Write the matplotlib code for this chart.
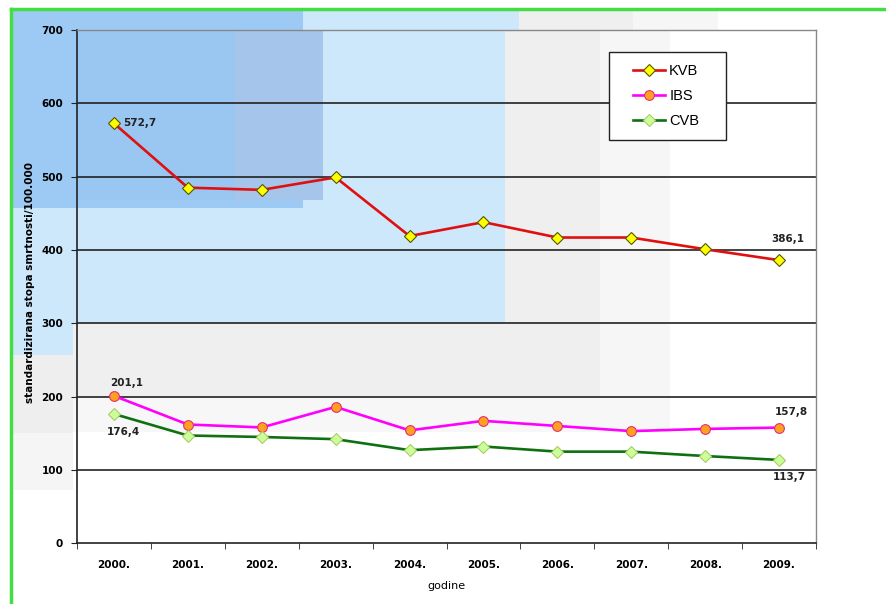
import matplotlib
matplotlib.use("Agg")
import matplotlib.pyplot as plt
from matplotlib.patches import Rectangle
from matplotlib.lines import Line2D

plt.rcParams['font.family'] = ['DejaVu Sans']

years = ["2000.", "2001.", "2002.", "2003.", "2004.", "2005.", "2006.", "2007.", "2008.", "2009."]
kvb = [572.7, 485, 482, 499, 419, 438, 417, 417, 401, 386.1]
ibs = [201.1, 162, 158, 186, 154, 167, 160, 153, 156, 157.8]
cvb = [176.4, 147, 145, 142, 127, 132, 125, 125, 119, 113.7]
yticks = [0, 100, 200, 300, 400, 500, 600, 700]

W, H = 886, 604
fig = plt.figure(figsize=(W / 100, H / 100), dpi=100)
fig.patch.set_facecolor("white")


def band(x0, y0, x1, y1, color, z=-10):
    # rectangle given in pixel coordinates measured from the top-left corner
    r = Rectangle((x0 / W, 1 - y1 / H), (x1 - x0) / W, (y1 - y0) / H,
                  transform=fig.transFigure, facecolor=color,
                  edgecolor="none", zorder=z)
    fig.patches.append(r)
    return r


# backdrop panels
band(10, 9, 505, 324, "#cde8fa")
band(505, 30, 600, 397, "#efefef")
band(600, 30, 670, 397, "#f6f6f6")
band(303, 9, 519, 30, "#cde8fa")
band(519, 9, 633, 30, "#efefef")
band(633, 9, 718, 30, "#f6f6f6")
band(10, 324, 505, 397, "#efefef")
band(10, 397, 670, 432, "#f7f7f7")
band(10, 324, 73, 355, "#cde8fa")
band(10, 355, 73, 433, "#eeeeee")
band(10, 433, 73, 490, "#f5f5f5")
band(10, 9, 303, 208, "#9dcaf4")
band(77, 30, 235, 200, "#99c7f2")
band(235, 30, 323, 200, "#a6c5ea")

# green frame (top and left edges)
fig.add_artist(Line2D([11 / W, 11 / W], [0, 1 - 9 / H], transform=fig.transFigure,
                      color="#44dd44", lw=2.5))
fig.add_artist(Line2D([11 / W, 1], [1 - 9 / H, 1 - 9 / H], transform=fig.transFigure,
                      color="#44dd44", lw=2.5))

ax = fig.add_axes([77 / W, 1 - 543.3 / H, (816 - 77) / W, (543.3 - 30) / H])
ax.set_facecolor("none")

x = list(range(len(years)))
ax.plot(x, kvb, color="#e01010", lw=1.9, marker="D", ms=6.5, mfc="#ffff00",
        mec="#555500", mew=0.8, label="KVB", zorder=5)
ax.plot(x, ibs, color="#ff00ff", lw=1.9, marker="o", ms=7, mfc="#ffa020",
        mec="#e03070", mew=0.8, label="IBS", zorder=5)
ax.plot(x, cvb, color="#107010", lw=1.9, marker="D", ms=6.5, mfc="#ccff99",
        mec="#aacc66", mew=0.8, label="CVB", zorder=5)

ax.set_xlim(-0.5, len(years) - 0.5)
ax.set_ylim(0, 700)
ax.set_yticks(yticks)
ax.set_yticklabels([str(v) for v in yticks], fontsize=7.5, fontweight="bold")
ax.set_xticks(x)
ax.set_xticklabels(years, fontsize=7.5, fontweight="bold")
ax.tick_params(axis="x", which="major", length=0, pad=12)
ax.set_xticks([i + 0.5 for i in range(-1, len(years))], minor=True)
ax.tick_params(axis="x", which="minor", length=4, direction="out", color="#222222")
ax.tick_params(axis="y", length=4, direction="out", color="#222222", pad=6)

for v in yticks[1:-1]:
    ax.axhline(v, color="#222222", lw=1.2, zorder=1)

for s in ["left", "bottom"]:
    ax.spines[s].set_color("#222222")
    ax.spines[s].set_linewidth(1.2)
for s in ["top", "right"]:
    ax.spines[s].set_color("#888888")
    ax.spines[s].set_linewidth(1.0)

ax.set_ylabel("standardizirana stopa smrtnosti/100.000", fontsize=7.5, fontweight="bold")
ax.yaxis.set_label_coords(-0.057, 0.508)
ax.set_xlabel("godine", fontsize=8, labelpad=8)

lab = dict(fontsize=7.5, fontweight="bold", color="#222222", textcoords="offset points",
           ha="center", va="center")
ax.annotate("572,7", (0, kvb[0]), xytext=(6.5, 0.5), **{**lab, "ha": "left"})
ax.annotate("386,1", (9, kvb[9]), xytext=(6, 15), **lab)
ax.annotate("201,1", (0, ibs[0]), xytext=(9, 9.5), **lab)
ax.annotate("176,4", (0, cvb[0]), xytext=(6.5, -13), **lab)
ax.annotate("157,8", (9, ibs[9]), xytext=(9, 11), **lab)
ax.annotate("113,7", (9, cvb[9]), xytext=(7.5, -12), **lab)

# legend panel
box = Rectangle((609 / W, 1 - 140 / H), (726 - 609) / W, (140 - 52) / H,
                transform=fig.transFigure, facecolor="white", edgecolor="#222222",
                lw=1.0, zorder=6)
ax.add_patch(box)
leg = ax.legend(loc="center", bbox_to_anchor=(666 / W, 1 - 96 / H),
                bbox_transform=fig.transFigure, frameon=False,
                prop={"family": "Liberation Sans", "size": 10.5},
                handlelength=2.2, borderpad=0.5, labelspacing=0.75,
                handletextpad=0.3)
leg.set_zorder(7)

fig.savefig("out.png", dpi=100)
